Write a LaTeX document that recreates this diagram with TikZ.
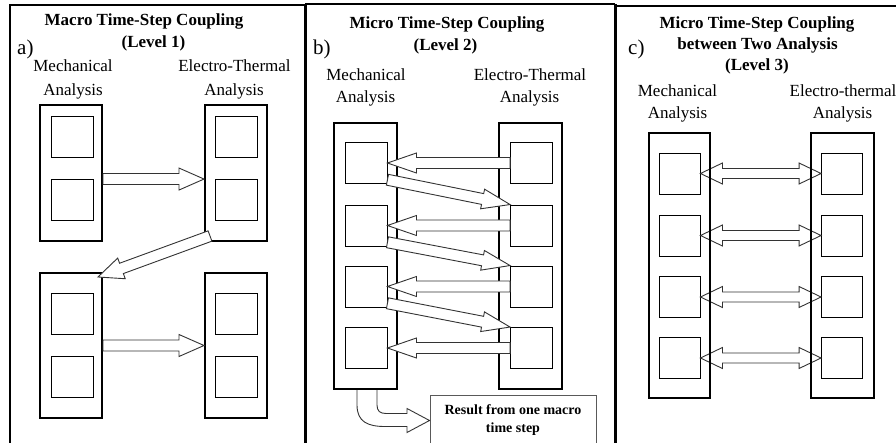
\documentclass[tikz,border=0pt]{standalone}
\usepackage{fontspec}
\setmainfont{Liberation Serif}
\usetikzlibrary{calc}
% single fat arrow: from, to, shaft half width, head half width, head length
\newcommand\fatarrow[5]{%
  \path ($(#2)!#5!(#1)$) coordinate (hb);
  \draw[fat] ($(#1)!#3!90:(#2)$) -- ($(hb)!#3!90:(#2)$) -- ($(hb)!#4!90:(#2)$) -- (#2)
    -- ($(hb)!#4!-90:(#2)$) -- ($(hb)!#3!-90:(#2)$) -- ($(#1)!#3!-90:(#2)$) -- cycle;}
% double-headed fat arrow
\newcommand\dblarrow[5]{%
  \path ($(#2)!#5!(#1)$) coordinate (hb) ($(#1)!#5!(#2)$) coordinate (ha);
  \draw[fat] (#1) -- ($(ha)!#4!90:(#2)$) -- ($(ha)!#3!90:(#2)$) -- ($(hb)!#3!90:(#2)$)
    -- ($(hb)!#4!90:(#2)$) -- (#2) -- ($(hb)!#4!-90:(#2)$) -- ($(hb)!#3!-90:(#2)$)
    -- ($(ha)!#3!-90:(#2)$) -- ($(ha)!#4!-90:(#2)$) -- cycle;}
\begin{document}
\begin{tikzpicture}[x=1pt,y=-1pt,
  tallbox/.style={draw, line width=2pt, inner sep=0pt, minimum width=62pt},
  tallboxc/.style={draw, line width=2.8pt, inner sep=0pt, minimum width=62pt},
  sq/.style={draw, line width=0.9pt, inner sep=0pt, minimum width=42pt, minimum height=41pt},
  fat/.style={draw=black!80, line width=0.9pt, fill=white, line join=miter},
  lbl/.style={anchor=base, inner sep=0pt, font=\fontsize{17}{20}\selectfont},
  ttl/.style={anchor=base, inner sep=0pt, font=\bfseries\fontsize{17}{20}\selectfont},
  num/.style={anchor=base west, inner sep=0pt, font=\fontsize{21}{24}\selectfont},
  resbox/.style={draw=black!65, line width=1pt, inner sep=0pt, align=center,
    font=\bfseries\fontsize{14}{18}\selectfont}]
\useasboundingbox (0,0) rectangle (896,443);
\fill[white] (0,0) rectangle (896,443);

% panel frames
\draw[line width=1.8pt] (10,443) -- (10,5) -- (305,5);
\draw[line width=3pt] (305,4) -- (305,443);
\draw[line width=2pt] (305,4) -- (615,4);
\draw[line width=3pt] (615,4) -- (615,443);
\draw[line width=2pt] (615,6) -- (896,6);

% ---------------- panel a ----------------
\node[ttl] (aT1) at (144,26) {Macro Time-Step Coupling};
\node[ttl] (aT2) at (153.5,48) {(Level 1)};
\node[num] (aN) at (17,55) {a)};
\node[lbl] (aML1) at (73,72) {Mechanical};
\node[lbl] (aML2) at (73,96) {Analysis};
\node[lbl] (aEL1) at (234.5,72) {Electro-Thermal};
\node[lbl] (aEL2) at (234,96) {Analysis};

\node[tallbox, minimum height=136pt] (aM1) at (71,173) {};
\node[tallbox, minimum height=136pt] (aE1) at (236,173) {};
\node[tallbox, minimum height=145pt] (aM2) at (71,345.5) {};
\node[tallbox, minimum height=145pt] (aE2) at (236,345.5) {};
\node[sq] (aM1a) at (72,136.5) {};
\node[sq] (aM1b) at (72,200) {};
\node[sq] (aE1a) at (236.5,136.5) {};
\node[sq] (aE1b) at (236.5,200) {};
\node[sq] (aM2a) at (72,313.5) {};
\node[sq] (aM2b) at (72,376.5) {};
\node[sq] (aE2a) at (236.5,313.5) {};
\node[sq] (aE2b) at (236.5,376.5) {};

\coordinate (a1s) at (aM1.east |- aM1b.north);
\coordinate (a1e) at (aE1.west |- aM1b.north);
\fatarrow{a1s}{a1e}{5.5pt}{11pt}{25pt}
\coordinate (a2s) at ($(aE1.south west)+(6,-6)$);
\coordinate (a2e) at ($(aM2.north east)+(-5,5)$);
\fatarrow{a2s}{a2e}{5.5pt}{11pt}{25pt}
\fatarrow{aM2.east}{aE2.west}{5.5pt}{11pt}{25pt}

% ---------------- panel b ----------------
\node[ttl] (bT1) at (447,29) {Micro Time-Step Coupling};
\node[ttl] (bT2) at (445.5,51) {(Level 2)};
\node[num] (bN) at (313,55) {b)};
\node[lbl] (bML1) at (366,81) {Mechanical};
\node[lbl] (bML2) at (365.5,102.5) {Analysis};
\node[lbl] (bEL1) at (530,81) {Electro-Thermal};
\node[lbl] (bEL2) at (529.5,102.5) {Analysis};

\node[tallbox, minimum width=63pt, minimum height=266pt] (bM) at (365.5,256) {};
\node[tallbox, minimum width=63pt, minimum height=266pt] (bE) at (530.5,256) {};
\foreach \i/\y in {1/163,2/225.5,3/286.5,4/348}{
  \node[sq] (bM\i) at (366,\y) {};
  \node[sq] (bE\i) at (531.5,\y) {};
}
\foreach \i in {1,2,3,4}{
  \fatarrow{bE\i.west}{bM\i.east}{5.5pt}{10pt}{29pt}
}
\foreach \i/\j in {1/2,2/3,3/4}{
  \coordinate (d\i s) at ($(bM\i.east)!0.8!(bM\i.south east)$);
  \fatarrow{d\i s}{bE\j.north west}{5.5pt}{10pt}{28pt}
}

\node[resbox, minimum width=166pt, minimum height=51pt] (res) at (513,420.5)
  {Result from one macro\\time step};
\draw[fat] (357,390) -- (357,405) .. controls (357,422) and (368,426.5) .. (385,426.5)
  -- (407,426.5) -- (407,432.5) -- (res.west) -- (407,408.5) -- (407,413.5)
  -- (386,413.5) .. controls (380,413.5) and (377,411) .. (377,405) -- (377,390);

% ---------------- panel c ----------------
\node[ttl] (cT1) at (757,29) {Micro Time-Step Coupling};
\node[ttl] (cT2) at (757.5,49.5) {between Two Analysis};
\node[ttl] (cT3) at (757,71) {(Level 3)};
\node[num] (cN) at (628,55) {c)};
\node[lbl] (cML1) at (677.5,97) {Mechanical};
\node[lbl] (cML2) at (677.5,119) {Analysis};
\node[lbl] (cEL1) at (843,97) {Electro-thermal};
\node[lbl] (cEL2) at (842.5,119) {Analysis};

\foreach \i/\y in {1/173.5,2/235.5,3/297,4/358}{
  \node[sq, minimum width=41pt] (cM\i) at (679.5,\y) {};
  \node[sq, minimum width=41pt] (cE\i) at (842,\y) {};
  \dblarrow{cM\i.east}{cE\i.west}{5pt}{10.5pt}{22pt}
}
\node[tallboxc, minimum width=61pt, minimum height=265pt] (cM) at (679.5,265.5) {};
\node[tallboxc, minimum width=63pt, minimum height=265pt] (cE) at (842.5,265.5) {};
\end{tikzpicture}
\end{document}
